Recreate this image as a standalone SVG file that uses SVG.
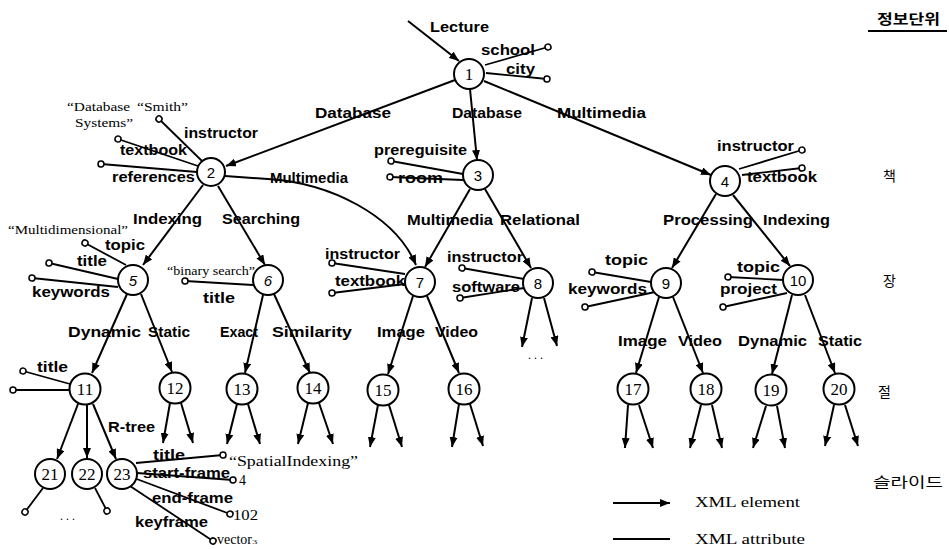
<svg xmlns="http://www.w3.org/2000/svg" width="949" height="549" viewBox="0 0 949 549">
<style>
.bg{fill:#fff}
.n circle{fill:#fff;stroke:#000;stroke-width:2}
.n text{font-family:"Liberation Serif",serif;font-size:17px;text-anchor:middle;fill:#000}
.n text.s{font-family:"Liberation Sans",sans-serif;font-size:15px}
.e{stroke:#000;stroke-width:2;fill:none;marker-end:url(#arr)}
.a{stroke:#000;stroke-width:1.8;fill:none;marker-end:url(#dot)}
.l{font-family:"Liberation Sans",Arial,sans-serif;font-weight:bold;font-size:15px;fill:#000}
.v{font-family:"Liberation Serif",serif;font-size:12px;fill:#000}
.v2{font-family:"Liberation Serif",serif;font-size:14px;fill:#000}
.k{font-family:"Noto Sans CJK KR",sans-serif;font-size:14px;fill:#000}
</style>
<defs>
<marker id="arr" markerUnits="userSpaceOnUse" viewBox="0 0 10 8" refX="10" refY="4" markerWidth="10" markerHeight="8" orient="auto">
<path d="M0,0 L10,4 L0,8 Z" fill="#000"/>
</marker>
<marker id="dot" markerUnits="userSpaceOnUse" viewBox="0 0 9 9" refX="4.5" refY="4.5" markerWidth="9" markerHeight="9" orient="auto">
<circle cx="4.5" cy="4.5" r="3" fill="#fff" stroke="#000" stroke-width="1.5"/>
</marker>
</defs>
<rect class="bg" x="0" y="0" width="949" height="549"/>

<g id="connectors">
<!-- element edges -->
<line class="e" x1="408" y1="21" x2="459" y2="61"/>
<line class="e" x1="455" y1="80" x2="226" y2="166"/>
<line class="e" x1="470" y1="89" x2="477" y2="160"/>
<line class="e" x1="484" y1="81" x2="711" y2="175"/>
<path class="e" d="M225,176 L268,179 C330,183 395,215 416,265"/>
<line class="e" x1="203" y1="185" x2="143" y2="265"/>
<line class="e" x1="218" y1="186" x2="265" y2="265"/>
<line class="e" x1="470" y1="189" x2="425" y2="267"/>
<line class="e" x1="485" y1="189" x2="531" y2="268"/>
<line class="e" x1="716" y1="194" x2="672" y2="268"/>
<line class="e" x1="733" y1="195" x2="790" y2="266"/>
<line class="e" x1="127" y1="294" x2="92" y2="373"/>
<line class="e" x1="141" y1="294" x2="172" y2="372"/>
<line class="e" x1="263" y1="295" x2="245" y2="373"/>
<line class="e" x1="274" y1="294" x2="310" y2="373"/>
<line class="e" x1="413" y1="296" x2="388" y2="374"/>
<line class="e" x1="427" y1="296" x2="459" y2="373"/>
<line class="e" x1="659" y1="297" x2="636" y2="373"/>
<line class="e" x1="673" y1="297" x2="703" y2="373"/>
<line class="e" x1="792" y1="295" x2="772" y2="374"/>
<line class="e" x1="805" y1="295" x2="835" y2="373"/>
<line class="e" x1="78" y1="404" x2="57" y2="459"/>
<line class="e" x1="87" y1="405" x2="87" y2="458"/>
<line class="e" x1="93" y1="404" x2="116" y2="459"/>
<!-- leaf arrows -->
<line class="e" x1="532" y1="298" x2="522" y2="347"/>
<line class="e" x1="544" y1="298" x2="557" y2="346"/>
<line class="e" x1="170" y1="403" x2="163" y2="443"/>
<line class="e" x1="181" y1="403" x2="193" y2="443"/>
<line class="e" x1="237" y1="404" x2="227" y2="444"/>
<line class="e" x1="248" y1="404" x2="260" y2="444"/>
<line class="e" x1="308" y1="403" x2="298" y2="444"/>
<line class="e" x1="319" y1="403" x2="333" y2="444"/>
<line class="e" x1="378" y1="405" x2="370" y2="447"/>
<line class="e" x1="389" y1="405" x2="402" y2="447"/>
<line class="e" x1="459" y1="404" x2="452" y2="447"/>
<line class="e" x1="470" y1="404" x2="483" y2="446"/>
<line class="e" x1="628" y1="405" x2="625" y2="448"/>
<line class="e" x1="639" y1="405" x2="653" y2="448"/>
<line class="e" x1="701" y1="405" x2="690" y2="448"/>
<line class="e" x1="712" y1="405" x2="722" y2="448"/>
<line class="e" x1="766" y1="406" x2="753" y2="448"/>
<line class="e" x1="777" y1="406" x2="785" y2="448"/>
<line class="e" x1="834" y1="405" x2="825" y2="446"/>
<line class="e" x1="845" y1="405" x2="858" y2="446"/>
<!-- attribute lines -->
<line class="a" x1="485" y1="65" x2="548" y2="47"/>
<line class="a" x1="486" y1="73" x2="547" y2="79"/>
<line class="a" x1="202" y1="161" x2="159" y2="119"/>
<line class="a" x1="198" y1="166" x2="118" y2="139"/>
<line class="a" x1="197" y1="172" x2="101" y2="164"/>
<line class="a" x1="463" y1="174" x2="391" y2="161"/>
<line class="a" x1="463" y1="180" x2="390" y2="177"/>
<line class="a" x1="739" y1="169" x2="802" y2="150"/>
<line class="a" x1="742" y1="175" x2="802" y2="168"/>
<line class="a" x1="126" y1="265" x2="85" y2="243"/>
<line class="a" x1="118" y1="279" x2="49" y2="263"/>
<line class="a" x1="118" y1="287" x2="32" y2="278"/>
<line class="a" x1="253" y1="285" x2="185" y2="281"/>
<line class="a" x1="405" y1="274" x2="332" y2="263"/>
<line class="a" x1="405" y1="284" x2="332" y2="293"/>
<line class="a" x1="524" y1="279" x2="462" y2="268"/>
<line class="a" x1="524" y1="288" x2="460" y2="298"/>
<line class="a" x1="651" y1="282" x2="592" y2="272"/>
<line class="a" x1="655" y1="292" x2="585" y2="307"/>
<line class="a" x1="784" y1="280" x2="728" y2="277"/>
<line class="a" x1="787" y1="293" x2="723" y2="307"/>
<line class="a" x1="70" y1="384" x2="23" y2="371"/>
<line class="a" x1="70" y1="390" x2="13" y2="390"/>
<line class="a" x1="43" y1="488" x2="25" y2="512"/>
<line class="a" x1="95" y1="488" x2="107" y2="511"/>
<line class="a" x1="136" y1="463" x2="223" y2="455"/>
<line class="a" x1="137" y1="473" x2="233" y2="480"/>
<line class="a" x1="134" y1="478" x2="230" y2="514"/>
<line class="a" x1="130" y1="486" x2="213" y2="541"/>
<!-- legend -->
<line class="e" x1="613" y1="503" x2="670" y2="503"/>
<line x1="613" y1="539" x2="670" y2="539" stroke="#000" stroke-width="1.8"/>
</g>

<g id="labels">
<text class="l" x="430" y="32" textLength="59" lengthAdjust="spacingAndGlyphs">Lecture</text>
<text class="l" x="481" y="55" textLength="54" lengthAdjust="spacingAndGlyphs">school</text>
<text class="l" x="506" y="74" textLength="29" lengthAdjust="spacingAndGlyphs">city</text>
<text class="l" x="315" y="118" textLength="76" lengthAdjust="spacingAndGlyphs">Database</text>
<text class="l" x="452" y="118" textLength="70" lengthAdjust="spacingAndGlyphs">Database</text>
<text class="l" x="557" y="118" textLength="89" lengthAdjust="spacingAndGlyphs">Multimedia</text>
<text class="l" x="184" y="138" textLength="74" lengthAdjust="spacingAndGlyphs">instructor</text>
<text class="l" x="120" y="155" textLength="67" lengthAdjust="spacingAndGlyphs">textbook</text>
<text class="l" x="112" y="182" textLength="83" lengthAdjust="spacingAndGlyphs">references</text>
<text class="l" x="270" y="183" textLength="78" lengthAdjust="spacingAndGlyphs">Multimedia</text>
<text class="l" x="374" y="155" textLength="93" lengthAdjust="spacingAndGlyphs">prereguisite</text>
<text class="l" x="398" y="183" textLength="45" lengthAdjust="spacingAndGlyphs">room</text>
<text class="l" x="717" y="151" textLength="77" lengthAdjust="spacingAndGlyphs">instructor</text>
<text class="l" x="747" y="182" textLength="70" lengthAdjust="spacingAndGlyphs">textbook</text>
<text class="l" x="133" y="224" textLength="69" lengthAdjust="spacingAndGlyphs">Indexing</text>
<text class="l" x="222" y="224" textLength="78" lengthAdjust="spacingAndGlyphs">Searching</text>
<text class="l" x="407" y="225" textLength="86" lengthAdjust="spacingAndGlyphs">Multimedia</text>
<text class="l" x="500" y="225" textLength="80" lengthAdjust="spacingAndGlyphs">Relational</text>
<text class="l" x="663" y="225" textLength="90" lengthAdjust="spacingAndGlyphs">Processing</text>
<text class="l" x="763" y="225" textLength="67" lengthAdjust="spacingAndGlyphs">Indexing</text>
<text class="l" x="105" y="250" textLength="40" lengthAdjust="spacingAndGlyphs">topic</text>
<text class="l" x="77" y="266" textLength="30" lengthAdjust="spacingAndGlyphs">title</text>
<text class="l" x="32" y="297" textLength="78" lengthAdjust="spacingAndGlyphs">keywords</text>
<text class="l" x="203" y="303" textLength="32" lengthAdjust="spacingAndGlyphs">title</text>
<text class="l" x="325" y="259" textLength="75" lengthAdjust="spacingAndGlyphs">instructor</text>
<text class="l" x="335" y="286" textLength="70" lengthAdjust="spacingAndGlyphs">textbook</text>
<text class="l" x="447" y="262" textLength="76" lengthAdjust="spacingAndGlyphs">instructor</text>
<text class="l" x="452" y="292" textLength="68" lengthAdjust="spacingAndGlyphs">software</text>
<text class="l" x="605" y="265" textLength="43" lengthAdjust="spacingAndGlyphs">topic</text>
<text class="l" x="568" y="294" textLength="79" lengthAdjust="spacingAndGlyphs">keywords</text>
<text class="l" x="737" y="272" textLength="43" lengthAdjust="spacingAndGlyphs">topic</text>
<text class="l" x="720" y="294" textLength="57" lengthAdjust="spacingAndGlyphs">project</text>
<text class="l" x="68" y="337" textLength="73" lengthAdjust="spacingAndGlyphs">Dynamic</text>
<text class="l" x="148" y="337" textLength="42" lengthAdjust="spacingAndGlyphs">Static</text>
<text class="l" x="220" y="337" textLength="38" lengthAdjust="spacingAndGlyphs">Exact</text>
<text class="l" x="272" y="337" textLength="80" lengthAdjust="spacingAndGlyphs">Similarity</text>
<text class="l" x="377" y="337" textLength="48" lengthAdjust="spacingAndGlyphs">Image</text>
<text class="l" x="435" y="337" textLength="43" lengthAdjust="spacingAndGlyphs">Video</text>
<text class="l" x="618" y="346" textLength="49" lengthAdjust="spacingAndGlyphs">Image</text>
<text class="l" x="678" y="346" textLength="44" lengthAdjust="spacingAndGlyphs">Video</text>
<text class="l" x="738" y="346" textLength="69" lengthAdjust="spacingAndGlyphs">Dynamic</text>
<text class="l" x="818" y="346" textLength="44" lengthAdjust="spacingAndGlyphs">Static</text>
<text class="l" x="37" y="372" textLength="31" lengthAdjust="spacingAndGlyphs">title</text>
<text class="l" x="108" y="432" textLength="47" lengthAdjust="spacingAndGlyphs">R-tree</text>
<text class="l" x="153" y="460" textLength="32" lengthAdjust="spacingAndGlyphs">title</text>
<text class="l" x="143" y="478" textLength="87" lengthAdjust="spacingAndGlyphs">start-frame</text>
<text class="l" x="152" y="503" textLength="81" lengthAdjust="spacingAndGlyphs">end-frame</text>
<text class="l" x="135" y="527" textLength="73" lengthAdjust="spacingAndGlyphs">keyframe</text>
<!-- values -->
<text class="v" x="67" y="111" textLength="63" lengthAdjust="spacingAndGlyphs">“Database</text>
<text class="v" x="137" y="111" textLength="51" lengthAdjust="spacingAndGlyphs">“Smith”</text>
<text class="v" x="75" y="127" textLength="58" lengthAdjust="spacingAndGlyphs">Systems”</text>
<text class="v" x="8" y="234" textLength="120" lengthAdjust="spacingAndGlyphs">“Multidimensional”</text>
<text class="v" x="167" y="275" textLength="88" lengthAdjust="spacingAndGlyphs">“binary search”</text>
<text class="v2" x="229" y="466" textLength="129" lengthAdjust="spacingAndGlyphs">“SpatialIndexing”</text>
<text class="v2" x="239" y="485">4</text>
<text class="v2" x="233" y="520" textLength="25" lengthAdjust="spacingAndGlyphs">102</text>
<text class="v2" x="217" y="544" font-size="13">vector<tspan font-size="8">:s</tspan></text>
<text class="v" x="528" y="359" font-size="10">. . .</text>
<text class="v" x="60" y="520" font-size="10">. . .</text>
<!-- legend & levels -->
<text class="v2" x="695" y="507" font-size="15" textLength="105" lengthAdjust="spacingAndGlyphs">XML element</text>
<text class="v2" x="695" y="544" font-size="15" textLength="110" lengthAdjust="spacingAndGlyphs">XML attribute</text>
<text class="k" x="877" y="24" font-weight="bold" font-size="15" textLength="63" lengthAdjust="spacingAndGlyphs">정보단위</text>
<line x1="868" y1="31" x2="947" y2="31" stroke="#000" stroke-width="2"/>
<text class="k" x="883" y="181">책</text>
<text class="k" x="883" y="286">장</text>
<text class="k" x="878" y="397">절</text>
<text class="k" x="873" y="487" font-size="16" textLength="70" lengthAdjust="spacingAndGlyphs">슬라이드</text>
</g>

<g id="node1" class="n"><circle cx="469" cy="74" r="15"/><text x="469" y="80">1</text></g>
<g id="node2" class="n"><circle cx="211" cy="172" r="14"/><text class="s" x="211" y="178">2</text></g>
<g id="node3" class="n"><circle cx="478" cy="175" r="15"/><text class="s" x="478" y="181">3</text></g>
<g id="node4" class="n"><circle cx="725" cy="181" r="15"/><text class="s" x="725" y="187">4</text></g>
<g id="node5" class="n"><circle cx="133" cy="280" r="15"/><text class="s" x="133" y="286" font-style="italic">5</text></g>
<g id="node6" class="n"><circle cx="268" cy="280" r="15"/><text class="s" x="268" y="286" font-style="italic">6</text></g>
<g id="node7" class="n"><circle cx="420" cy="282" r="15"/><text class="s" x="420" y="288">7</text></g>
<g id="node8" class="n"><circle cx="538" cy="283" r="15"/><text class="s" x="538" y="289">8</text></g>
<g id="node9" class="n"><circle cx="666" cy="283" r="15"/><text class="s" x="666" y="289">9</text></g>
<g id="node10" class="n"><circle cx="798" cy="280" r="15"/><text class="s" x="798" y="286">10</text></g>
<g id="node11" class="n"><circle cx="85" cy="389" r="15.5"/><text x="85" y="395">11</text></g>
<g id="node12" class="n"><circle cx="175" cy="388" r="15.5"/><text x="175" y="394">12</text></g>
<g id="node13" class="n"><circle cx="242" cy="389" r="15.5"/><text x="242" y="395">13</text></g>
<g id="node14" class="n"><circle cx="313" cy="388" r="15.5"/><text x="313" y="394">14</text></g>
<g id="node15" class="n"><circle cx="383" cy="390" r="15.5"/><text x="383" y="396">15</text></g>
<g id="node16" class="n"><circle cx="464" cy="389" r="15.5"/><text x="464" y="395">16</text></g>
<g id="node17" class="n"><circle cx="633" cy="389" r="15.5"/><text x="633" y="395">17</text></g>
<g id="node18" class="n"><circle cx="706" cy="389" r="15.5"/><text x="706" y="395">18</text></g>
<g id="node19" class="n"><circle cx="771" cy="390" r="15.5"/><text x="771" y="396">19</text></g>
<g id="node20" class="n"><circle cx="839" cy="389" r="15.5"/><text x="839" y="395">20</text></g>
<g id="node21" class="n"><circle cx="50" cy="474" r="15"/><text x="50" y="480">21</text></g>
<g id="node22" class="n"><circle cx="87" cy="474" r="15"/><text x="87" y="480">22</text></g>
<g id="node23" class="n"><circle cx="122" cy="474" r="15"/><text x="122" y="480">23</text></g>
</svg>
